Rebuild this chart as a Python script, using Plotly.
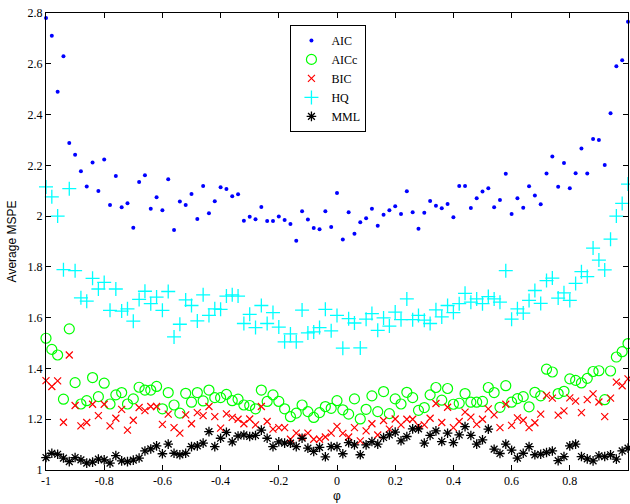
import numpy as np
import plotly.graph_objects as go

phi = [round(-1 + 0.02 * i, 2) for i in range(101)]

aic = [2.78, 2.71, 2.49, 2.63, 2.288, 2.242, 2.177, 2.117, 2.211, 2.099,
       2.223, 2.044, 2.158, 2.035, 2.051, 1.954, 2.134, 2.161, 2.029, 2.074,
       2.023, 2.145, 1.945, 2.058, 2.044, 2.087, 1.989, 2.119, 2.011, 2.059,
       2.114, 2.107, 2.078, 2.086, 1.982, 1.997, 1.988, 2.036, 1.981, 1.981,
       1.998, 1.985, 1.969, 1.903, 2.019, 1.987, 1.953, 1.948, 2.019, 1.957,
       2.091, 1.908, 2.015, 1.931, 1.976, 1.992, 2.029, 1.962, 2.005, 2.023,
       2.039, 2.008, 2.098, 2.015, 1.95, 2.013, 2.06, 2.041, 2.031, 2.048,
       1.996, 2.119, 2.119, 2.032, 2.07, 2.097, 2.11, 2.035, 2.063, 2.167,
       2.008, 2.07, 2.033, 2.118, 2.081, 2.047, 2.168, 2.235, 2.116, 2.209,
       2.11, 2.169, 2.266, 2.168, 2.304, 2.3, 2.201, 2.405, 2.59, 2.614, 2.766]

hq = [2.115, 2.076, 2.0, 1.789, 2.108, 1.785, 1.678, 1.665, 1.755, 1.713,
      1.739, 1.629, 1.713, 1.626, 1.635, 1.586, 1.672, 1.704, 1.655, 1.681,
      1.629, 1.703, 1.524, 1.574, 1.670, 1.648, 1.587, 1.69, 1.609, 1.635,
      1.633, 1.685, 1.69, 1.685, 1.577, 1.613, 1.561, 1.648, 1.577, 1.62,
      1.563, 1.505, 1.536, 1.505, 1.63, 1.54, 1.544, 1.561, 1.633, 1.548,
      1.609, 1.48, 1.596, 1.579, 1.481, 1.594, 1.616, 1.55, 1.599, 1.567,
      1.622, 1.592, 1.674, 1.592, 1.609, 1.590, 1.577, 1.631, 1.603, 1.648,
      1.620, 1.655, 1.696, 1.661, 1.674, 1.655, 1.683, 1.674, 1.661, 1.785,
      1.594, 1.635, 1.618, 1.668, 1.707, 1.656, 1.746, 1.756, 1.677, 1.698,
      1.668, 1.735, 1.781, 1.762, 1.874, 1.827, 1.788, 1.909, 2.0, 2.05, 2.126]

aicc = [1.519, 1.475, 1.453, 1.279, 1.556, 1.344, 1.26, 1.273, 1.364, 1.289,
        1.342, 1.26, 1.296, 1.305, 1.26, 1.28, 1.326, 1.315, 1.315, 1.329,
        1.241, 1.305, 1.256, 1.224, 1.302, 1.267, 1.305, 1.272, 1.315, 1.285,
        1.285, 1.298, 1.273, 1.279, 1.256, 1.254, 1.241, 1.315, 1.27, 1.296,
        1.27, 1.241, 1.21, 1.224, 1.256, 1.23, 1.207, 1.226, 1.25, 1.243,
        1.273, 1.237, 1.22, 1.28, 1.201, 1.239, 1.292, 1.23, 1.309, 1.222,
        1.28, 1.26, 1.306, 1.285, 1.235, 1.246, 1.296, 1.325, 1.275, 1.321,
        1.259, 1.263, 1.301, 1.267, 1.267, 1.27, 1.325, 1.305, 1.247, 1.332,
        1.267, 1.281, 1.289, 1.249, 1.306, 1.292, 1.397, 1.386, 1.301, 1.31,
        1.359, 1.353, 1.343, 1.361, 1.388, 1.391, 1.277, 1.39, 1.445, 1.466, 1.498]

bic = [1.352, 1.329, 1.351, 1.188, 1.453, 1.254, 1.174, 1.187, 1.259, 1.214,
       1.259, 1.174, 1.204, 1.239, 1.157, 1.196, 1.246, 1.234, 1.25, 1.25,
       1.18, 1.22, 1.167, 1.145, 1.217, 1.182, 1.226, 1.214, 1.25, 1.21,
       1.165, 1.221, 1.207, 1.2, 1.182, 1.201, 1.178, 1.25, 1.191, 1.161,
       1.167, 1.167, 1.121, 1.145, 1.13, 1.145, 1.121, 1.121, 1.13, 1.145,
       1.172, 1.144, 1.13, 1.167, 1.115, 1.154, 1.182, 1.138, 1.195, 1.161,
       1.201, 1.178, 1.2, 1.2, 1.175, 1.178, 1.204, 1.262, 1.187, 1.247,
       1.167, 1.191, 1.228, 1.208, 1.18, 1.2, 1.241, 1.217, 1.167, 1.259,
       1.176, 1.205, 1.196, 1.167, 1.186, 1.22, 1.294, 1.283, 1.216, 1.233,
       1.284, 1.271, 1.226, 1.277, 1.3, 1.268, 1.21, 1.283, 1.346, 1.332, 1.359]

mml = [1.049, 1.066, 1.062, 1.047, 1.033, 1.049, 1.04, 1.027, 1.031, 1.043,
       1.04, 1.027, 1.057, 1.036, 1.033, 1.039, 1.047, 1.075, 1.083, 1.095,
       1.064, 1.102, 1.066, 1.06, 1.066, 1.092, 1.095, 1.106, 1.151, 1.092,
       1.125, 1.148, 1.111, 1.134, 1.138, 1.132, 1.136, 1.157, 1.125, 1.092,
       1.111, 1.106, 1.106, 1.092, 1.125, 1.086, 1.073, 1.089, 1.052, 1.092,
       1.092, 1.064, 1.108, 1.099, 1.06, 1.099, 1.112, 1.102, 1.128, 1.138,
       1.149, 1.115, 1.132, 1.162, 1.162, 1.106, 1.136, 1.154, 1.112, 1.145,
       1.108, 1.138, 1.171, 1.136, 1.102, 1.119, 1.161, 1.082, 1.065, 1.102,
       1.078, 1.047, 1.066, 1.092, 1.06, 1.062, 1.069, 1.075, 1.037, 1.053,
       1.095, 1.102, 1.053, 1.044, 1.036, 1.056, 1.053, 1.06, 1.043, 1.075, 1.086]

x_ticks = [-1, -0.8, -0.6, -0.4, -0.2, 0, 0.2, 0.4, 0.6, 0.8, 1]
x_ticklabels = ["-1", "-0.8", "-0.6", "-0.4", "-0.2", "0", "0.2", "0.4", "0.6", "0.8", "1"]
y_ticks = [1, 1.2, 1.4, 1.6, 1.8, 2, 2.2, 2.4, 2.6, 2.8]
y_ticklabels = ["1", "1.2", "1.4", "1.6", "1.8", "2", "2.2", "2.4", "2.6", "2.8"]

fig = go.Figure()
fig.add_trace(go.Scatter(x=phi, y=aic, mode="markers", name="AIC", cliponaxis=False,
                         marker=dict(symbol="circle", size=4, color="#0000ff")))
fig.add_trace(go.Scatter(x=phi, y=aicc, mode="markers", name="AICc", cliponaxis=False,
                         marker=dict(symbol="circle-open", size=10, color="#00ff00",
                                     line=dict(width=1.2, color="#00ff00"))))
fig.add_trace(go.Scatter(x=phi, y=bic, mode="markers", name="BIC", cliponaxis=False,
                         marker=dict(symbol="x-thin-open", size=7, color="#ff0000",
                                     line=dict(width=1.2, color="#ff0000"))))
fig.add_trace(go.Scatter(x=phi, y=hq, mode="markers", name="HQ", cliponaxis=False,
                         marker=dict(symbol="cross-thin-open", size=10, color="#00ffff",
                                     line=dict(width=1.3, color="#00ffff"))))
fig.add_trace(go.Scatter(x=phi, y=mml, mode="markers", name="MML", cliponaxis=False,
                         marker=dict(symbol="asterisk-open", size=8, color="#000000",
                                     line=dict(width=1.3, color="#000000"))))

axis_common = dict(showgrid=False, zeroline=False, showline=True, linecolor="black",
                   linewidth=1, mirror="allticks", ticks="inside", ticklen=5,
                   tickcolor="black",
                   tickfont=dict(family="Liberation Serif", size=12, color="black"))

fig.update_xaxes(range=[-1, 1], tickvals=x_ticks, ticktext=x_ticklabels,
                 title=dict(text="φ", font=dict(family="Liberation Sans", size=12, color="black"),
                            standoff=4),
                 **axis_common)
fig.update_yaxes(range=[1, 2.8], tickvals=y_ticks, ticktext=y_ticklabels,
                 title=dict(text="Average MSPE", font=dict(family="Liberation Sans", size=12, color="black"),
                            standoff=8),
                 **axis_common)

fig.update_layout(
    width=630, height=504,
    margin=dict(l=46, r=2, t=13, b=34),
    paper_bgcolor="white", plot_bgcolor="white",
    showlegend=True,
    legend=dict(x=0.42, y=0.974, xanchor="left", yanchor="top",
                bgcolor="white", bordercolor="black", borderwidth=1,
                font=dict(family="Liberation Serif", size=12, color="black"),
                tracegroupgap=0, itemwidth=30),
)

fig.write_html("out.html")
